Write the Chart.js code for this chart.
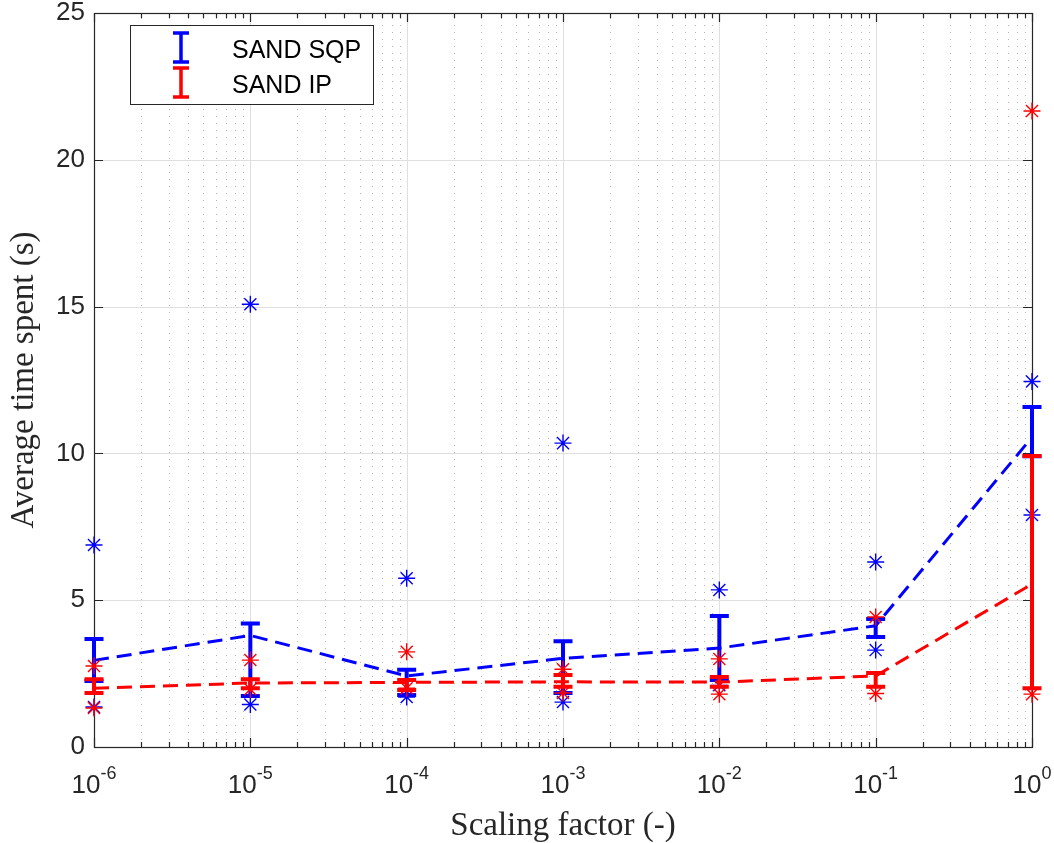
<!DOCTYPE html>
<html><head><meta charset="utf-8">
<script src="https://cdn.jsdelivr.net/npm/chart.js@4.4.1/dist/chart.umd.min.js"></script>
<style>html,body{margin:0;padding:0;background:#fff}#wrap{width:1054px;height:843px;position:relative}</style>
</head><body><div id="wrap"><canvas id="c" width="1054" height="843"></canvas></div>
<script>
// ---- data ----
const scalingFactors = [1e-6, 1e-5, 1e-4, 1e-3, 1e-2, 1e-1, 1];
const xTickExponents = [-6, -5, -4, -3, -2, -1, 0];
const yTickValues = [0, 5, 10, 15, 20, 25];
const seriesNames = ['SAND SQP', 'SAND IP'];

const sqpMean = [2.95, 3.80, 2.42, 3.02, 3.37, 4.13, 10.55];
const sqpLow  = [2.25, 1.74, 1.77, 1.84, 2.28, 3.75, 9.90];
const sqpHigh = [3.68, 4.21, 2.63, 3.60, 4.46, 4.36, 11.58];
const sqpMax  = [6.88, 15.08, 5.75, 10.35, 5.35, 6.30, 12.45];
const sqpMin  = [1.36, 1.45, 1.70, 1.53, 2.10, 3.30, 7.90];

const ipMean = [2.00, 2.18, 2.20, 2.22, 2.21, 2.42, 5.55];
const ipLow  = [1.84, 2.00, 1.94, 2.05, 2.05, 2.05, 2.00];
const ipHigh = [2.31, 2.31, 2.28, 2.45, 2.38, 2.52, 9.91];
const ipMax  = [2.76, 2.96, 3.24, 2.65, 3.00, 4.43, 21.66];
const ipMin  = [1.33, 1.97, 2.00, 1.84, 1.80, 1.82, 1.80];

const BLUE = '#0000ff', RED = '#ff0000', AX = '#262626';
const SANS = '"Liberation Sans", Arial, sans-serif';
const SERIF = '"Liberation Serif", "DejaVu Serif", serif';

const pts = (ys) => scalingFactors.map((x, i) => ({x: x, y: ys[i]}));
const starPts = (a, b) => pts(a).concat(pts(b));

// ---- plugins ----
const errorBarPlugin = {
  id: 'errbars',
  afterDatasetDraw(chart, args) {
    const ds = chart.data.datasets[args.index];
    if (!ds.errLow) return;
    const xs = chart.scales.x, ys = chart.scales.y, ctx = chart.ctx;
    ctx.save();
    ctx.strokeStyle = ds.borderColor;
    ctx.lineWidth = 4;
    ctx.setLineDash([]);
    ds.data.forEach((p, i) => {
      const px = xs.getPixelForValue(p.x);
      const yl = ys.getPixelForValue(ds.errLow[i]);
      const yh = ys.getPixelForValue(ds.errHigh[i]);
      ctx.beginPath();
      ctx.moveTo(px, yl); ctx.lineTo(px, yh);
      ctx.moveTo(px - 9.5, yl); ctx.lineTo(px + 9.5, yl);
      ctx.moveTo(px - 9.5, yh); ctx.lineTo(px + 9.5, yh);
      ctx.stroke();
    });
    ctx.restore();
  }
};

const axesPlugin = {
  id: 'matlabAxes',
  beforeDatasetsDraw(chart) {
    const ctx = chart.ctx, a = chart.chartArea, xs = chart.scales.x, ys = chart.scales.y;
    ctx.save();
    ctx.lineWidth = 1;
    ctx.strokeStyle = '#b4b4b4';
    ctx.setLineDash([1, 6]);
    for (let e = -6; e < 0; e++) {
      for (let m = 2; m <= 9; m++) {
        const px = Math.round(xs.getPixelForValue(m * Math.pow(10, e))) + 0.5;
        ctx.beginPath(); ctx.moveTo(px, a.bottom); ctx.lineTo(px, a.top); ctx.stroke();
      }
    }
    ctx.setLineDash([]);
    ctx.strokeStyle = '#dfdfdf';
    xTickExponents.forEach(e => {
      const px = Math.round(xs.getPixelForValue(Math.pow(10, e))) + 0.5;
      ctx.beginPath(); ctx.moveTo(px, a.bottom); ctx.lineTo(px, a.top); ctx.stroke();
    });
    yTickValues.forEach(v => {
      const py = Math.round(ys.getPixelForValue(v)) + 0.5;
      ctx.beginPath(); ctx.moveTo(a.left, py); ctx.lineTo(a.right, py); ctx.stroke();
    });
    ctx.strokeStyle = AX;
    ctx.lineWidth = 1.2;
    ctx.strokeRect(Math.round(a.left) + 0.5, Math.round(a.top) + 0.5, Math.round(a.right - a.left), Math.round(a.bottom - a.top));
    ctx.beginPath();
    yTickValues.forEach(v => {
      const py = Math.round(ys.getPixelForValue(v)) + 0.5;
      ctx.moveTo(a.left, py); ctx.lineTo(a.left + 9, py);
      ctx.moveTo(a.right, py); ctx.lineTo(a.right - 9, py);
    });
    xTickExponents.forEach(e => {
      const px = Math.round(xs.getPixelForValue(Math.pow(10, e))) + 0.5;
      ctx.moveTo(px, a.bottom); ctx.lineTo(px, a.bottom - 9);
      ctx.moveTo(px, a.top); ctx.lineTo(px, a.top + 9);
    });
    for (let e = -6; e < 0; e++) {
      for (let m = 2; m <= 9; m++) {
        const px = Math.round(xs.getPixelForValue(m * Math.pow(10, e))) + 0.5;
        ctx.moveTo(px, a.bottom); ctx.lineTo(px, a.bottom - 5);
        ctx.moveTo(px, a.top); ctx.lineTo(px, a.top + 5);
      }
    }
    ctx.stroke();
    ctx.restore();
  },
  afterDraw(chart) {
    const ctx = chart.ctx, xs = chart.scales.x;
    ctx.save();
    ctx.fillStyle = AX;
    ctx.textBaseline = 'alphabetic';
    xTickExponents.forEach(e => {
      const px = xs.getPixelForValue(Math.pow(10, e));
      ctx.font = '26px ' + SANS;
      const wb = ctx.measureText('10').width;
      ctx.font = '18px ' + SANS;
      const sup = String(e);
      const ws = ctx.measureText(sup).width;
      const x0 = px - (wb + ws) / 2;
      ctx.font = '26px ' + SANS;
      ctx.fillText('10', x0, 793);
      ctx.font = '18px ' + SANS;
      ctx.fillText(sup, x0 + wb, 779);
    });
    // legend
    const lx = 130.5, ly = 25.5, lw = 243, lh = 79;
    ctx.fillStyle = '#ffffff';
    ctx.fillRect(lx, ly, lw, lh);
    ctx.strokeStyle = AX; ctx.lineWidth = 1;
    ctx.strokeRect(lx, ly, lw, lh);
    const cols = [BLUE, RED];
    const rows = [[33, 62, 50], [68, 97, 85]];
    seriesNames.forEach((name, i) => {
      const [t, b, cy] = rows[i];
      ctx.strokeStyle = cols[i]; ctx.lineWidth = 3.5;
      ctx.beginPath();
      ctx.moveTo(181, t); ctx.lineTo(181, b);
      ctx.moveTo(173, t); ctx.lineTo(189, t);
      ctx.moveTo(173, b); ctx.lineTo(189, b);
      ctx.stroke();
      ctx.fillStyle = '#000';
      ctx.font = '25px ' + SANS;
      ctx.textBaseline = 'middle';
      ctx.fillText(name, 232, cy + 1);
    });
    ctx.restore();
  }
};

// ---- chart ----
new Chart(document.getElementById('c'), {
  type: 'line',
  data: {
    datasets: [
      { label: seriesNames[0], data: pts(sqpMean), errLow: sqpLow, errHigh: sqpHigh,
        borderColor: BLUE, borderWidth: 3, borderDash: [15, 8], pointRadius: 0,
        fill: false, tension: 0, clip: false, order: 4 },
      { label: seriesNames[0] + ' range', data: starPts(sqpMax, sqpMin), showLine: false,
        pointStyle: 'star', pointRadius: 8.5, borderColor: BLUE, backgroundColor: BLUE,
        pointBorderWidth: 1.4, clip: false, order: 3 },
      { label: seriesNames[1], data: pts(ipMean), errLow: ipLow, errHigh: ipHigh,
        borderColor: RED, borderWidth: 3, borderDash: [15, 8], pointRadius: 0,
        fill: false, tension: 0, clip: false, order: 2 },
      { label: seriesNames[1] + ' range', data: starPts(ipMax, ipMin), showLine: false,
        pointStyle: 'star', pointRadius: 8.5, borderColor: RED, backgroundColor: RED,
        pointBorderWidth: 1.4, clip: false, order: 1 }
    ]
  },
  options: {
    responsive: false,
    animation: false,
    devicePixelRatio: 1,
    layout: { padding: { left: 0, top: 13, right: 22, bottom: 0 } },
    plugins: { legend: { display: false }, tooltip: { enabled: false } },
    scales: {
      x: {
        type: 'logarithmic', min: 1e-6, max: 1,
        grid: { display: false }, border: { display: false },
        ticks: { display: false },
        title: { display: true, text: 'Scaling factor (-)', color: AX,
                 font: { family: SERIF, size: 33, lineHeight: 1 },
                 padding: { top: 0, bottom: 0 } },
        afterFit: (s) => { s.height = 96; s.paddingLeft = 0; s.paddingRight = 0; }
      },
      y: {
        type: 'linear', min: 0, max: 25,
        grid: { display: false }, border: { display: false },
        ticks: { stepSize: 5, color: AX, padding: 1,
                 font: { family: SANS, size: 26, lineHeight: 1 } },
        title: { display: true, text: 'Average time spent (s)', color: AX,
                 font: { family: SERIF, size: 33, lineHeight: 1 },
                 padding: { top: 8, bottom: 0 } },
        afterFit: (s) => { s.width = 94; s.paddingTop = 0; s.paddingBottom = 0; }
      }
    }
  },
  plugins: [errorBarPlugin, axesPlugin]
});
</script>
</body></html>
